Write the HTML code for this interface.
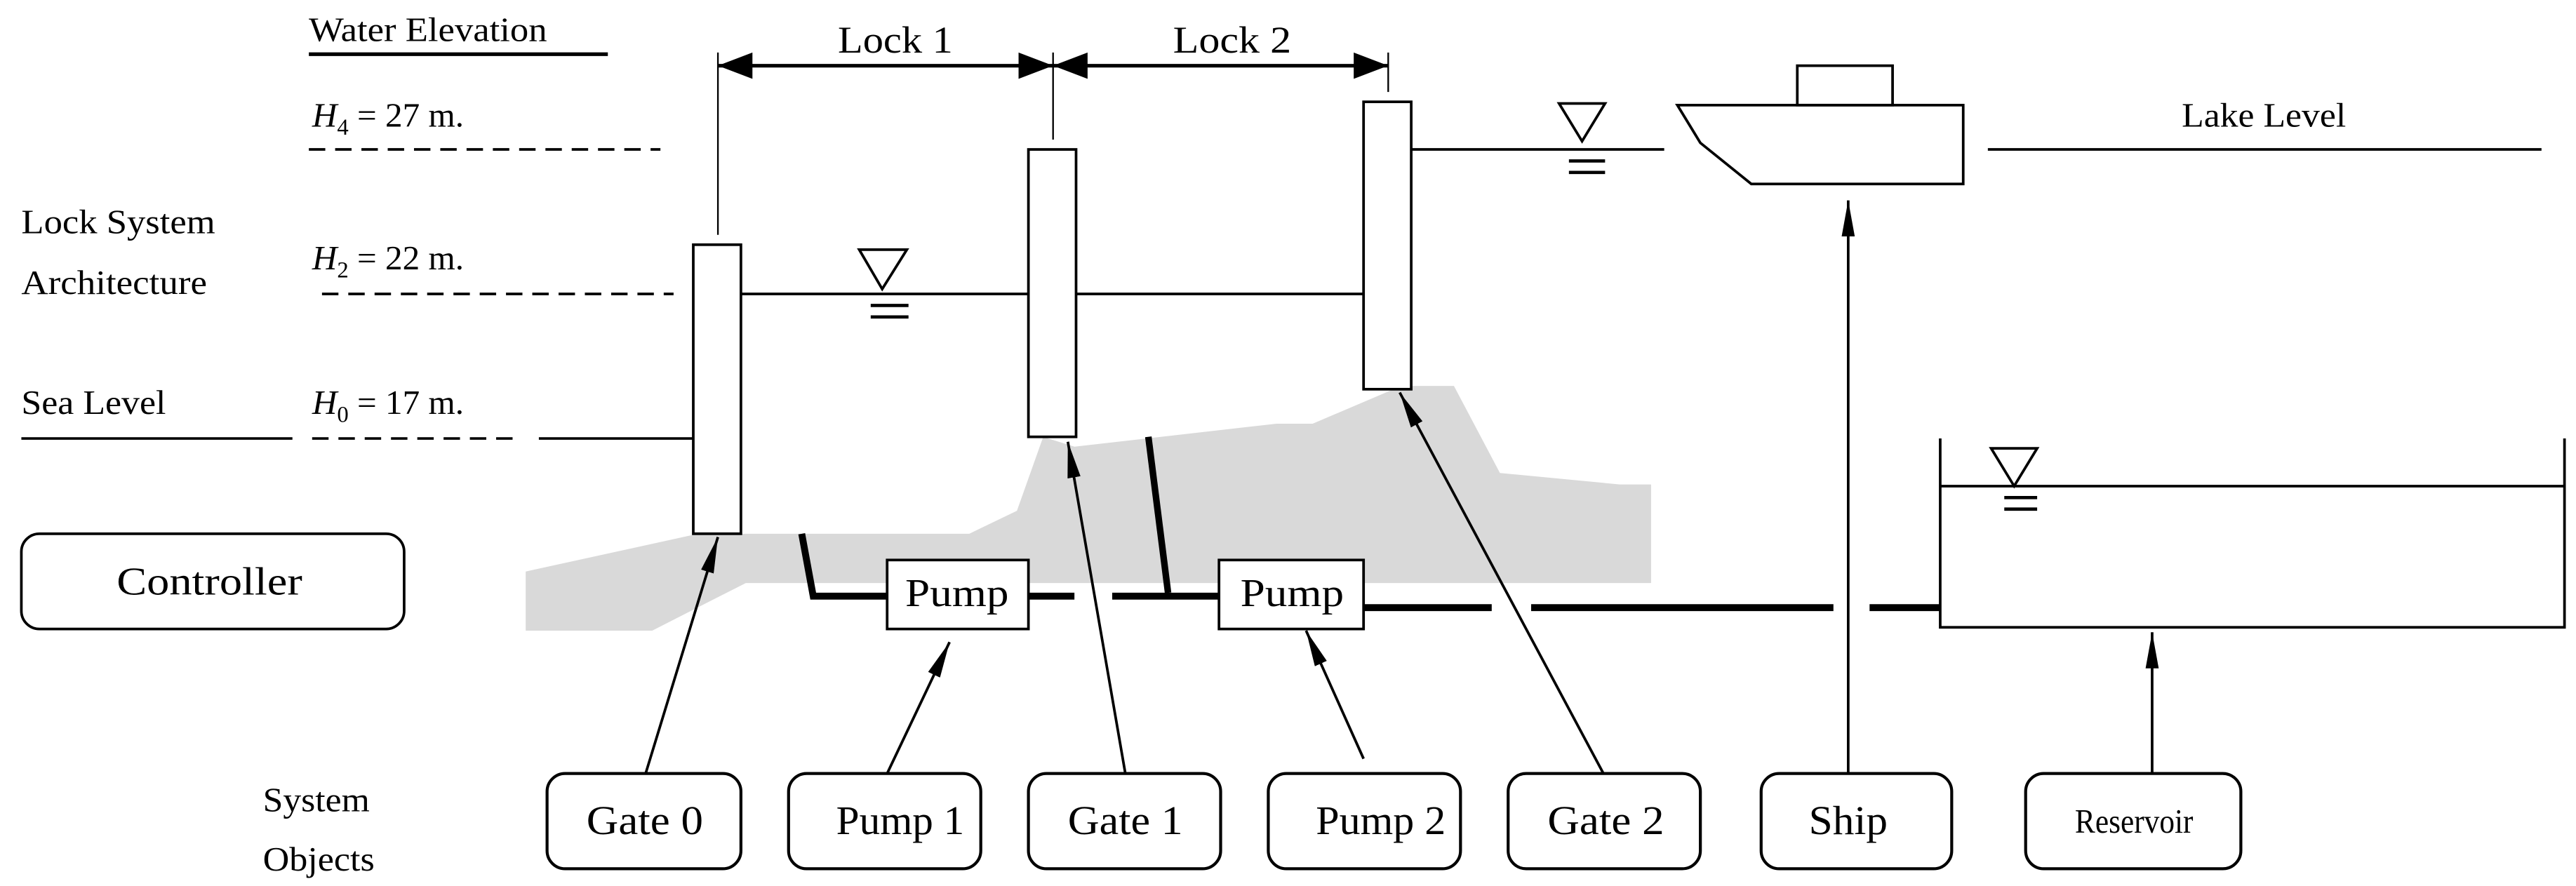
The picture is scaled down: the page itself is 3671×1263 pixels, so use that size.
<!DOCTYPE html>
<html><head><meta charset="utf-8"><style>html,body{margin:0;padding:0;background:#fff}svg{display:block}</style></head>
<body>
<svg width="3671" height="1263" viewBox="0 0 1568 539.5" preserveAspectRatio="none" xmlns="http://www.w3.org/2000/svg" font-family="'Liberation Serif',serif">
<defs>
<marker id="ah" viewBox="0 0 22 8" refX="22" refY="4" markerWidth="22" markerHeight="8" markerUnits="userSpaceOnUse" orient="auto"><path d="M0,0 L22,4 L0,8 z" fill="#000"/></marker>
</defs>
<polygon fill="#d9d9d9" points="320,348 425,325 590,325 619,311 635,266 654,272 777,258 799,258 853,235 885,235 913,288 986,295 1005,295 1005,355 454,355 397,384 320,384"/>
<g stroke="#000" fill="none">
<line x1="188" y1="33" x2="370" y2="33" stroke-width="2.2"/>
<line x1="188" y1="91" x2="402" y2="91" stroke-width="1.6" stroke-dasharray="10,6"/>
<line x1="196" y1="179" x2="410" y2="179" stroke-width="1.6" stroke-dasharray="10,6"/>
<line x1="13" y1="267" x2="178" y2="267" stroke-width="1.6"/>
<line x1="190" y1="267" x2="312" y2="267" stroke-width="1.6" stroke-dasharray="10,6"/>
<line x1="328" y1="267" x2="422" y2="267" stroke-width="1.6"/>
<rect x="422" y="149" width="29" height="176" fill="#fff" stroke-width="1.6"/>
<rect x="626" y="91" width="29" height="175" fill="#fff" stroke-width="1.6"/>
<rect x="830" y="62" width="29" height="175" fill="#fff" stroke-width="1.6"/>
<line x1="451" y1="179" x2="626" y2="179" stroke-width="1.6"/>
<line x1="655" y1="179" x2="830" y2="179" stroke-width="1.6"/>
<line x1="859" y1="91" x2="1013" y2="91" stroke-width="1.6"/>
<polygon points="523,152 552,152 537,176" stroke-width="1.6"/>
<line x1="530" y1="186" x2="553" y2="186" stroke-width="2"/>
<line x1="530" y1="193" x2="553" y2="193" stroke-width="2"/>
<polygon points="949,63 977,63 963,86" stroke-width="1.6"/>
<line x1="955" y1="98" x2="977" y2="98" stroke-width="2"/>
<line x1="955" y1="105" x2="977" y2="105" stroke-width="2"/>
<polygon points="1212,273 1240,273 1226,296" stroke-width="1.6"/>
<line x1="1220" y1="303" x2="1240" y2="303" stroke-width="2"/>
<line x1="1220" y1="310" x2="1240" y2="310" stroke-width="2"/>
<line x1="437" y1="32" x2="437" y2="143" stroke-width="1"/>
<line x1="641" y1="32" x2="641" y2="85" stroke-width="1"/>
<line x1="845" y1="32" x2="845" y2="56" stroke-width="1"/>
<line x1="437" y1="40" x2="845" y2="40" stroke-width="2.2"/>
<polygon points="1021,64 1195,64 1195,112 1066,112 1035,87" stroke-width="1.6"/>
<rect x="1094" y="40" width="58" height="24" stroke-width="1.6"/>
<line x1="1210" y1="91" x2="1547" y2="91" stroke-width="1.6"/>
<polyline points="1181,267 1181,382 1561,382 1561,267" stroke-width="1.6"/>
<line x1="1181" y1="296" x2="1561" y2="296" stroke-width="1.6"/>
<polyline points="488,325 495,363 540,363" stroke-width="4.2"/>
<line x1="626" y1="363" x2="654" y2="363" stroke-width="4.2"/>
<line x1="677" y1="363" x2="742" y2="363" stroke-width="4.2"/>
<line x1="699" y1="266" x2="711" y2="361" stroke-width="4"/>
<line x1="830" y1="370" x2="908" y2="370" stroke-width="4.2"/>
<line x1="932" y1="370" x2="1116" y2="370" stroke-width="4.2"/>
<line x1="1138" y1="370" x2="1181" y2="370" stroke-width="4.2"/>
<rect x="540" y="341" width="86" height="42" fill="#fff" stroke-width="1.6"/>
<rect x="742" y="341" width="88" height="42" fill="#fff" stroke-width="1.6"/>
<rect x="13" y="325" width="233" height="58" rx="11" stroke-width="1.6"/>
<rect x="333" y="471" width="118" height="58" rx="11" stroke-width="1.8"/>
<rect x="480" y="471" width="117" height="58" rx="11" stroke-width="1.8"/>
<rect x="626" y="471" width="117" height="58" rx="11" stroke-width="1.8"/>
<rect x="772" y="471" width="117" height="58" rx="11" stroke-width="1.8"/>
<rect x="918" y="471" width="117" height="58" rx="11" stroke-width="1.8"/>
<rect x="1072" y="471" width="116" height="58" rx="11" stroke-width="1.8"/>
<rect x="1233" y="471" width="131" height="58" rx="11" stroke-width="1.8"/>
<g stroke-width="1.6" marker-end="url(#ah)">
<line x1="393" y1="471" x2="437" y2="327"/>
<line x1="540" y1="471" x2="578" y2="391"/>
<line x1="685" y1="471" x2="650" y2="269"/>
<line x1="830" y1="462" x2="795" y2="384"/>
<line x1="976" y1="471" x2="852" y2="239"/>
<line x1="1125" y1="471" x2="1125" y2="122"/>
<line x1="1310" y1="471" x2="1310" y2="385"/>
</g>
</g>
<g fill="#000">
<polygon points="437,40 458,32 458,48"/>
<polygon points="641,40 620,32 620,48"/>
<polygon points="641,40 662,32 662,48"/>
<polygon points="845,40 824,32 824,48"/>
</g>
<g font-size="21" fill="#000">
<text x="188" y="25" textLength="145" lengthAdjust="spacingAndGlyphs">Water Elevation</text>
<text x="190" y="77"><tspan font-style="italic">H</tspan><tspan font-size="14" dy="5">4</tspan><tspan dy="-5"> = 27 m.</tspan></text>
<text x="190" y="164"><tspan font-style="italic">H</tspan><tspan font-size="14" dy="5">2</tspan><tspan dy="-5"> = 22 m.</tspan></text>
<text x="190" y="252"><tspan font-style="italic">H</tspan><tspan font-size="14" dy="5">0</tspan><tspan dy="-5"> = 17 m.</tspan></text>
<text x="13" y="142" textLength="118" lengthAdjust="spacingAndGlyphs">Lock System</text>
<text x="13" y="179" textLength="113" lengthAdjust="spacingAndGlyphs">Architecture</text>
<text x="13" y="252" textLength="88" lengthAdjust="spacingAndGlyphs">Sea Level</text>
<text x="510" y="32" font-size="23" textLength="70" lengthAdjust="spacingAndGlyphs">Lock 1</text>
<text x="714" y="32" font-size="23" textLength="72" lengthAdjust="spacingAndGlyphs">Lock 2</text>
<text x="1328" y="77" textLength="100" lengthAdjust="spacingAndGlyphs">Lake Level</text>
<text x="71" y="362" font-size="24" textLength="113" lengthAdjust="spacingAndGlyphs">Controller</text>
<text x="551" y="369" font-size="24" textLength="63" lengthAdjust="spacingAndGlyphs">Pump</text>
<text x="755" y="369" font-size="24" textLength="63" lengthAdjust="spacingAndGlyphs">Pump</text>
<text x="160" y="494" textLength="65" lengthAdjust="spacingAndGlyphs">System</text>
<text x="160" y="530" textLength="68" lengthAdjust="spacingAndGlyphs">Objects</text>
<text x="357" y="508" font-size="25" textLength="71" lengthAdjust="spacingAndGlyphs">Gate 0</text>
<text x="509" y="508" font-size="25" textLength="78" lengthAdjust="spacingAndGlyphs">Pump 1</text>
<text x="650" y="508" font-size="25" textLength="70" lengthAdjust="spacingAndGlyphs">Gate 1</text>
<text x="801" y="508" font-size="25" textLength="79" lengthAdjust="spacingAndGlyphs">Pump 2</text>
<text x="942" y="508" font-size="25" textLength="71" lengthAdjust="spacingAndGlyphs">Gate 2</text>
<text x="1101" y="508" font-size="25" textLength="48" lengthAdjust="spacingAndGlyphs">Ship</text>
<text x="1263" y="507" font-size="21" textLength="72" lengthAdjust="spacingAndGlyphs">Reservoir</text>
</g>
</svg>
</body></html>
